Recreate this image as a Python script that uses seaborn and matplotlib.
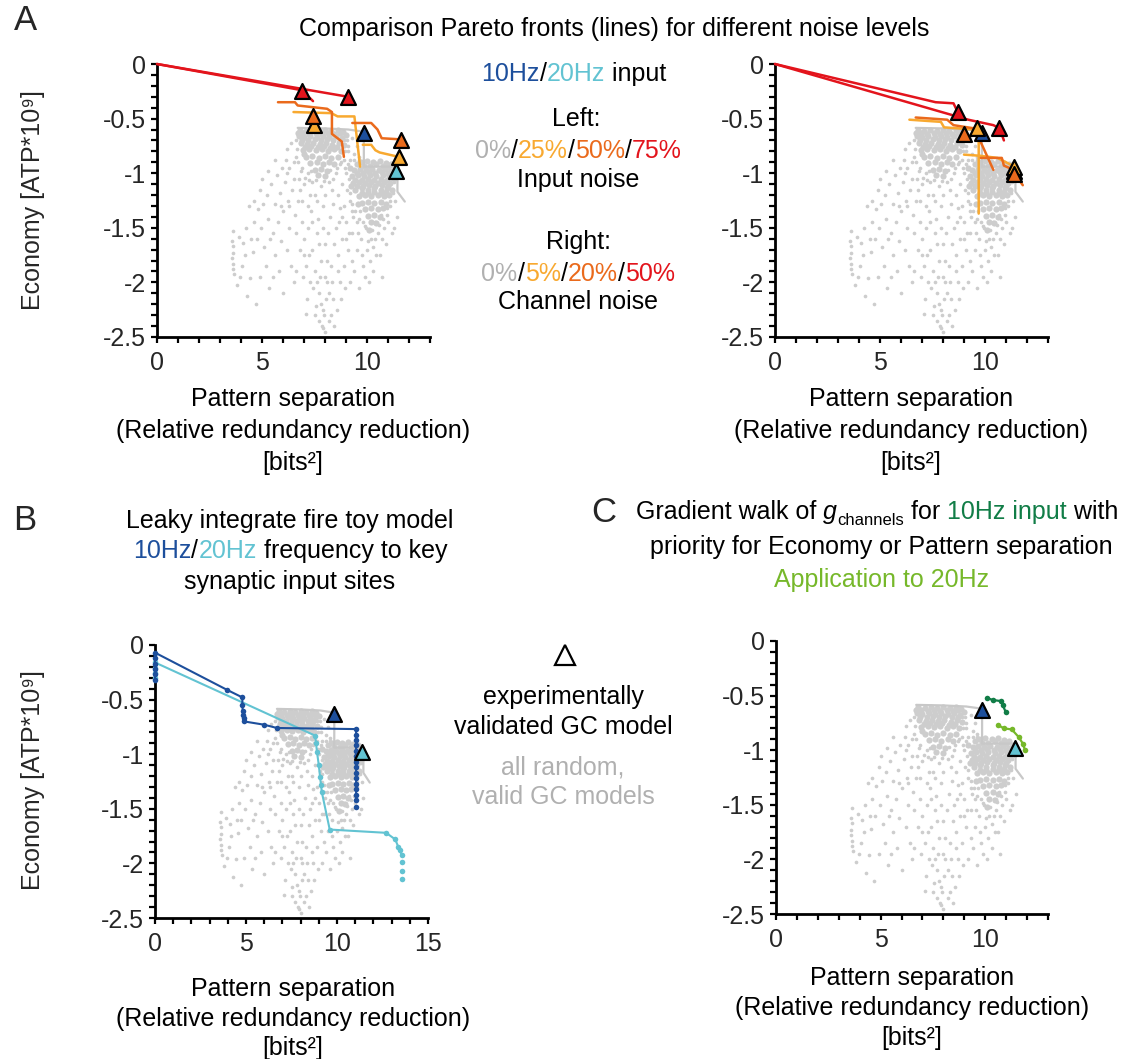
import matplotlib
matplotlib.use("Agg")
import matplotlib.pyplot as plt
import seaborn as sns
import pandas as pd
from matplotlib.ticker import MultipleLocator, FuncFormatter
from matplotlib.lines import Line2D

# ---------------- data ----------------
# random valid GC models (gray cloud): dense cores
dense_pts = [
    (6.8,-0.60),(7.1,-0.61),(7.4,-0.60),(7.7,-0.61),(8.0,-0.60),(8.3,-0.61),(8.6,-0.60),(8.85,-0.62),
    (6.95,-0.63),(7.25,-0.64),(7.55,-0.63),(7.85,-0.64),(8.15,-0.63),(8.45,-0.64),(8.72,-0.63),
    (6.75,-0.66),(7.0,-0.67),(7.3,-0.66),(7.6,-0.67),(7.9,-0.66),(8.2,-0.67),(8.5,-0.66),(8.8,-0.68),
    (6.9,-0.70),(7.2,-0.70),(7.5,-0.69),(7.8,-0.70),(8.1,-0.69),(8.4,-0.70),(8.7,-0.70),
    (6.85,-0.72),(7.15,-0.73),(7.45,-0.72),(7.75,-0.73),(8.05,-0.72),(8.35,-0.74),(8.65,-0.72),
    (7.05,-0.76),(7.35,-0.75),(7.65,-0.76),(7.95,-0.75),(8.25,-0.77),(8.55,-0.76),
    (6.95,-0.79),(7.25,-0.78),(7.55,-0.79),(7.85,-0.78),(8.15,-0.80),(8.45,-0.78),(8.75,-0.80),
    (7.1,-0.85),(7.4,-0.84),(7.7,-0.86),(8.0,-0.84),(8.3,-0.86),(8.6,-0.85),
    (7.3,-0.91),(7.6,-0.90),(7.9,-0.92),(8.2,-0.90),(7.5,-0.97),(7.8,-0.96),(8.1,-0.98),
    (6.7,-0.63),(9.0,-0.65),(8.9,-0.74),(7.0,-0.82),(8.45,-0.92),(7.65,-1.02),(8.0,-1.03),
    (9.7,-0.90),(10.0,-0.89),(10.3,-0.90),(10.6,-0.89),(10.9,-0.91),(11.15,-0.92),
    (9.85,-0.93),(10.15,-0.93),(10.45,-0.92),(10.75,-0.93),(11.0,-0.94),
    (9.4,-0.97),(9.65,-0.96),(9.95,-0.97),(10.25,-0.96),(10.55,-0.97),(10.85,-0.96),(11.15,-0.98),
    (9.5,-1.00),(9.8,-1.00),(10.1,-0.99),(10.4,-1.00),(10.7,-0.99),(11.0,-1.00),
    (9.3,-1.03),(9.55,-1.02),(9.85,-1.03),(10.15,-1.02),(10.45,-1.03),(10.75,-1.02),(11.05,-1.03),(11.25,-1.04),
    (9.45,-1.06),(9.75,-1.06),(10.05,-1.05),(10.35,-1.06),(10.65,-1.05),(10.95,-1.06),
    (9.35,-1.09),(9.6,-1.08),(9.9,-1.09),(10.2,-1.08),(10.5,-1.09),(10.8,-1.08),(11.1,-1.09),
    (9.5,-1.12),(9.8,-1.12),(10.1,-1.11),(10.4,-1.12),(10.7,-1.11),(11.0,-1.12),
    (9.45,-1.15),(9.75,-1.14),(10.05,-1.15),(10.35,-1.14),(10.65,-1.15),(10.95,-1.14),(11.2,-1.15),
    (9.75,-1.18),(10.05,-1.18),(10.35,-1.17),(10.65,-1.18),(10.9,-1.17),
    (9.6,-1.21),(9.9,-1.20),(10.2,-1.21),(10.5,-1.20),(10.8,-1.21),(11.05,-1.20),
    (9.75,-1.27),(10.05,-1.26),(10.35,-1.27),(10.65,-1.26),(10.9,-1.28),
    (9.9,-1.33),(10.2,-1.32),(10.5,-1.33),(10.75,-1.32),(10.05,-1.39),(10.35,-1.38),(10.6,-1.40),
    (10.2,-1.45),(10.45,-1.46),(9.2,-0.95),(9.25,-1.12),(11.3,-0.97),(9.5,-0.92),(10.1,-1.52),(9.55,-1.28),
]
# random valid GC models (gray cloud): sparse points
sparse_pts = [
    (6.6,-0.85),(6.9,-0.95),(7.2,-1.0),(7.0,-1.1),(7.4,-1.08),(7.8,-1.12),(8.2,-1.08),(8.5,-1.0),
    (8.7,-0.92),(8.9,-0.88),(9.1,-0.8),(9.0,-1.0),(8.8,-1.1),(8.6,-1.2),(9.2,-1.25),(8.4,-1.28),
    (8.0,-1.2),(7.6,-1.25),(7.3,-1.2),(6.8,-1.15),(6.5,-1.05),(6.3,-0.95),(6.2,-0.78),(6.4,-0.72),
    (8.35,-1.15),(9.05,-1.15),(7.9,-1.3),(8.7,-1.32),(9.3,-1.35),
    (3.62,-1.53),(3.58,-1.62),(3.62,-1.67),(3.60,-1.73),(3.57,-1.78),(3.63,-1.83),(3.61,-1.88),
    (3.66,-1.92),(3.80,-2.02),(3.90,-1.58),(4.1,-1.64),(4.25,-1.5),(4.05,-1.85),(4.45,-1.96),
    (4.3,-2.12),(4.55,-1.72),(4.6,-1.45),(4.75,-1.6),(4.8,-1.33),(4.95,-1.5),(5.05,-1.28),
    (5.1,-1.68),(5.25,-1.2),(5.3,-1.42),(5.45,-1.1),(5.5,-1.55),(5.6,-1.28),(5.7,-1.02),
    (5.75,-1.45),(5.85,-1.18),(5.95,-0.95),(6.0,-1.35),(6.1,-1.08),(6.15,-0.88),(6.25,-1.25),
    (6.3,-1.5),(6.45,-1.15),(6.5,-0.9),(6.55,-1.38),(6.7,-1.25),(6.75,-1.05),(5.2,-1.85),
    (4.9,-1.95),(5.6,-1.75),(5.9,-1.62),(6.2,-1.7),(6.6,-1.55),(6.9,-1.45),(5.35,-2.05),
    (4.7,-2.2),(5.8,-1.9),(6.4,-1.85),(4.2,-1.75),(3.95,-1.95),
    (4.4,-1.3),(4.9,-1.15),(5.3,-0.98),(5.6,-0.88),(4.6,-1.25),(5.0,-1.05),(5.5,-1.95),(6.0,-2.1),
    (6.5,-2.0),(6.8,-1.7),(6.6,-1.9),(6.3,-1.3),(5.9,-1.3),(5.4,-1.6),(4.5,-1.6),(6.9,-1.25),
    (7.2,-1.3),(7.5,-1.2),(8.9,-1.3),(8.8,-1.4),(9.0,-1.6),(9.5,-1.45),(10.7,-1.6),(11.4,-1.05),
    (7.0,-1.6),(7.2,-1.5),(7.4,-1.7),(7.1,-1.85),(7.3,-2.0),(7.5,-1.9),(7.6,-1.55),(7.7,-2.1),
    (7.8,-1.8),(7.9,-2.25),(8.0,-1.65),(8.1,-2.0),(8.2,-2.35),(7.85,-2.4),(8.0,-2.45),(7.95,-2.3),
    (8.3,-1.85),(8.4,-2.15),(8.5,-1.5),(8.6,-1.75),(8.7,-2.0),(8.8,-1.6),(8.9,-1.85),(9.0,-1.45),
    (9.1,-1.7),(7.55,-2.22),(7.65,-1.42),(7.35,-1.35),(8.25,-1.4),(8.15,-1.55),(7.75,-1.95),
    (8.05,-2.15),(7.45,-2.05),(8.35,-2.0),(7.25,-1.75),(6.95,-1.95),(7.15,-2.15),(8.55,-2.25),
    (8.45,-1.65),(7.7,-1.65),(7.9,-1.5),(8.1,-1.8),(8.0,-1.95),(7.6,-2.0),(7.8,-2.2),(8.2,-2.1),
    (7.4,-1.45),(8.65,-1.45),(7.1,-2.29),(7.0,-1.75),(6.2,-1.0),
    (9.3,-1.55),(9.5,-1.7),(9.4,-1.9),(9.7,-1.6),(9.8,-1.85),(9.6,-2.05),(10.0,-1.7),(10.2,-1.6),
    (10.3,-1.9),(10.5,-1.55),(10.6,-1.75),(10.8,-1.5),(10.9,-1.65),(11.0,-1.45),(10.4,-1.45),
    (9.9,-1.48),(9.2,-2.0),(10.1,-2.0),(10.7,-1.95),(11.1,-1.3),(11.2,-1.55),(9.35,-1.4),
    (9.65,-1.35),(10.65,-1.38),(10.95,-1.38),
    (8.9,-0.7),(9.1,-0.75),(9.3,-0.68),(9.2,-0.88),(9.4,-0.82),(9.5,-0.75),(9.6,-0.85),(8.95,-0.95),
    (11.35,-1.25),(11.45,-1.4),(11.3,-1.5),
    (6.6,-0.7),(6.65,-0.78),(6.7,-0.9),(6.85,-0.98),(7.05,-1.04),(7.35,-0.98),(7.25,-1.06),
    (7.55,-1.06),(7.95,-1.07),(8.25,-0.97),(8.55,-0.95),(8.75,-0.9),(8.95,-0.8),(9.05,-0.7),(8.4,-1.05),
    (9.1,-0.92),(9.15,-1.05),(9.2,-1.18),(9.3,-1.28),(9.45,-1.35),(9.6,-1.42),(9.8,-1.45),
    (9.95,-1.5),(10.25,-1.52),(10.55,-1.47),(10.75,-1.42),(10.95,-1.32),(11.1,-1.25),(11.25,-1.18),
    (11.3,-1.08),(9.4,-0.88),(9.6,-0.88),(10.4,-1.6),(10.3,-1.68),(10.05,-1.62),
    (8.6,-1.9),(9.3,-1.8),(9.55,-1.55),(9.15,-1.55),(9.75,-1.75),(10.15,-1.8),(10.45,-1.75),
    (9.9,-1.95),(8.95,-2.05),(8.75,-2.15),(8.3,-2.3),(8.45,-2.4),(7.7,-2.35),(7.5,-2.3),(7.9,-2.42),
]
dense_x = [p[0] for p in dense_pts]
dense_y = [p[1] for p in dense_pts]
sparse_x = [p[0] for p in sparse_pts]
sparse_y = [p[1] for p in sparse_pts]

# 0% noise Pareto fronts (gray lines)
front10_x = [6.7, 8.0, 9.1, 9.85]
front10_y = [-0.585, -0.59, -0.60, -0.62]
front20_x = [9.85, 9.85, 11.45, 11.45, 11.8]
front20_y = [-0.64, -0.94, -0.94, -1.17, -1.26]

# experimentally validated GC model
exp10_x, exp10_y = [9.85], [-0.63]
exp20_x, exp20_y = [11.4], [-0.98]

# Panel A left: input noise fronts
aL_red1_x = [0, 6.9, 7.43];              aL_red1_y = [0, -0.24, -0.34]
aL_red2_x = [0, 9.1];                    aL_red2_y = [0, -0.30]
aL_or1_x = [5.76, 6.57, 6.7, 8.1, 8.33, 8.33, 8.8, 8.9]
aL_or1_y = [-0.35, -0.35, -0.38, -0.41, -0.44, -0.64, -0.71, -0.85]
aL_or2_x = [9.3, 10.2, 10.5, 10.7, 11.6];  aL_or2_y = [-0.54, -0.54, -0.60, -0.68, -0.69]
aL_ye1_x = [6.5, 8.3, 8.6, 9.4, 9.67];     aL_ye1_y = [-0.44, -0.45, -0.48, -0.48, -0.94]
aL_ye2_x = [9.8, 10.2, 10.4, 10.6, 11.5];  aL_ye2_y = [-0.74, -0.74, -0.79, -0.81, -0.85]
aL_tri_red_x = [6.9, 9.1];   aL_tri_red_y = [-0.25, -0.30]
aL_tri_or_x = [7.44, 11.6];  aL_tri_or_y = [-0.48, -0.70]
aL_tri_ye_x = [7.48, 11.5];  aL_tri_ye_y = [-0.56, -0.85]

# Panel A right: channel noise fronts
aR_red1_x = [0, 7.65, 8.5, 8.7];           aR_red1_y = [0, -0.35, -0.36, -0.44]
aR_red2_x = [0, 9.2, 10.4, 10.7, 10.9];    aR_red2_y = [0, -0.51, -0.56, -0.59, -0.70]
aR_or1_x = [6.7, 8.2, 8.5, 9.5, 10.4];     aR_or1_y = [-0.49, -0.51, -0.56, -0.59, -0.97]
aR_or2_x = [9.8, 10.8, 10.9, 11.25, 11.8]; aR_or2_y = [-0.86, -0.86, -0.93, -0.96, -1.11]
aR_ye1_x = [6.4, 7.9, 8.05, 9.5, 9.7, 9.7]; aR_ye1_y = [-0.51, -0.53, -0.58, -0.60, -0.62, -1.37]
aR_ye2_x = [9.0, 9.75, 10.6, 11.2, 11.6];  aR_ye2_y = [-0.83, -0.84, -0.86, -0.92, -0.97]
aR_tri_red_x = [8.7, 10.65]; aR_tri_red_y = [-0.44, -0.59]
aR_tri_or_x = [9.0, 11.4];   aR_tri_or_y = [-0.64, -1.01]
aR_tri_ye_x = [9.6, 11.4];   aR_tri_ye_y = [-0.59, -0.94]

# Panel B: leaky integrate-and-fire toy model
b10_x = [0, 0, 0, 0, 0, 0, 3.95, 4.8, 4.8, 4.82, 4.85, 4.87, 4.9, 6.0, 6.7,
         11.05, 11.05, 11.05, 11.05, 11.05, 11.05, 11.05, 11.05, 11.05, 11.05, 11.05, 11.05, 11.05, 11.05]
b10_y = [-0.32, -0.27, -0.22, -0.17, -0.12, -0.07, -0.41, -0.48, -0.55, -0.60, -0.64, -0.67, -0.70, -0.73, -0.76,
         -0.77, -0.82, -0.87, -0.92, -0.97, -1.02, -1.07, -1.12, -1.17, -1.22, -1.27, -1.32, -1.37, -1.42]
b10_dot_x = [11.05]; b10_dot_y = [-1.48]
b20_x = [0, 0, 0, 0, 8.8, 8.85, 8.9, 9.0, 9.07, 9.12, 9.17, 9.6, 12.7, 13.2, 13.37, 13.45, 13.55]
b20_y = [-0.30, -0.26, -0.21, -0.16, -0.83, -0.90, -0.98, -1.10, -1.21, -1.28, -1.35, -1.69, -1.72, -1.78, -1.85, -1.88, -1.92]
b20_dot_x = [13.55, 13.55, 13.55]; b20_dot_y = [-1.99, -2.07, -2.14]

# Panel C: gradient walks
c10_x = [10.07, 10.35, 10.74, 10.84, 10.98]; c10_y = [-0.52, -0.54, -0.55, -0.59, -0.65]
c20_x = [10.6, 10.9, 11.27, 11.6, 11.8, 11.9]; c20_y = [-0.77, -0.80, -0.81, -0.88, -0.94, -1.0]

# ---------------- style ----------------
BLUE = "#1d4f9c"; CYAN = "#62c3d2"
RED = "#e3141c"; ORANGE = "#ea6a1c"; YELLOW = "#f8a930"
GRAY = "#cdcdcd"; GRAYTXT = "#b0b0b0"; GRAYLINE = "#c8c8c8"
DGREEN = "#117d47"; LGREEN = "#76b82a"
FS = 18

sns.set_theme(style="ticks")
plt.rcParams["font.family"] = ["Liberation Sans", "DejaVu Sans"]
plt.rcParams["axes.unicode_minus"] = False

W, H = 1131, 1059
fig = plt.figure(figsize=(W / 100, H / 100), dpi=100)
fig.patch.set_facecolor("white")


def px_axes(l, t, r, b):
    return fig.add_axes([l / W, 1 - b / H, (r - l) / W, (b - t) / H])


def style_ax(ax, xmax):
    ax.set_xlim(0, xmax)
    ax.set_ylim(-2.5, 0)
    ax.xaxis.set_major_locator(MultipleLocator(5))
    ax.xaxis.set_minor_locator(MultipleLocator(1))
    ax.yaxis.set_major_locator(MultipleLocator(0.5))
    ax.yaxis.set_minor_locator(MultipleLocator(0.1))
    fmt = FuncFormatter(lambda v, p: "0" if abs(v) < 1e-9 else f"{v:g}")
    ax.xaxis.set_major_formatter(fmt)
    ax.yaxis.set_major_formatter(fmt)
    for s in ["top", "right"]:
        ax.spines[s].set_visible(False)
    for s in ["left", "bottom"]:
        ax.spines[s].set_linewidth(2)
        ax.spines[s].set_color("black")
    ax.tick_params(which="both", direction="out", length=4, width=1.6, color="black")
    ax.tick_params(axis="x", labelsize=FS, pad=6)
    ax.tick_params(axis="y", labelsize=FS, pad=4)
    ax.set_xlabel("")
    ax.set_ylabel("")
    ax.grid(False)
    ax.set_facecolor("white")


def base(ax):
    sns.scatterplot(x=sparse_x, y=sparse_y, s=7, color=GRAY, linewidth=0, ax=ax, zorder=1)
    sns.scatterplot(x=dense_x, y=dense_y, s=20, color=GRAY, linewidth=0, ax=ax, zorder=1)
    sns.lineplot(x=front10_x, y=front10_y, sort=False, estimator=None, color=GRAYLINE, lw=1.6, ax=ax, zorder=2)
    sns.lineplot(x=front20_x, y=front20_y, sort=False, estimator=None, color=GRAYLINE, lw=1.6, ax=ax, zorder=2)


def line(ax, x, y, c, lw=1.8, **kw):
    sns.lineplot(x=x, y=y, sort=False, estimator=None, color=c, lw=lw, ax=ax, zorder=3, **kw)


def tri(ax, x, y, c, z=6):
    sns.scatterplot(x=x, y=y, marker="^", s=115, color=c, edgecolor="black", linewidth=1.6, ax=ax, zorder=z)


def unclip(ax):
    for a in ax.lines + ax.collections:
        a.set_clip_on(False)


# ---------------- panel A left ----------------
axA1 = px_axes(157, 64, 430, 337)
base(axA1)
line(axA1, aL_ye1_x, aL_ye1_y, YELLOW)
line(axA1, aL_ye2_x, aL_ye2_y, YELLOW)
line(axA1, aL_or1_x, aL_or1_y, ORANGE)
line(axA1, aL_or2_x, aL_or2_y, ORANGE)
line(axA1, aL_red1_x, aL_red1_y, RED)
line(axA1, aL_red2_x, aL_red2_y, RED)
tri(axA1, exp20_x, exp20_y, CYAN)
tri(axA1, exp10_x, exp10_y, BLUE)
tri(axA1, aL_tri_ye_x, aL_tri_ye_y, YELLOW)
tri(axA1, aL_tri_or_x, aL_tri_or_y, ORANGE, 7)
tri(axA1, aL_tri_red_x, aL_tri_red_y, RED)
style_ax(axA1, 13)
unclip(axA1)

# ---------------- panel A right ----------------
axA2 = px_axes(775, 64, 1048, 337)
base(axA2)
line(axA2, aR_ye1_x, aR_ye1_y, YELLOW)
line(axA2, aR_ye2_x, aR_ye2_y, YELLOW)
line(axA2, aR_or1_x, aR_or1_y, ORANGE)
line(axA2, aR_or2_x, aR_or2_y, ORANGE)
line(axA2, aR_red1_x, aR_red1_y, RED)
line(axA2, aR_red2_x, aR_red2_y, RED)
tri(axA2, exp20_x, exp20_y, CYAN)
tri(axA2, exp10_x, exp10_y, BLUE)
tri(axA2, aR_tri_ye_x, aR_tri_ye_y, YELLOW, 7)
tri(axA2, aR_tri_or_x, aR_tri_or_y, ORANGE, 8)
tri(axA2, aR_tri_red_x, aR_tri_red_y, RED)
style_ax(axA2, 13)
unclip(axA2)

# ---------------- panel B ----------------
axB = px_axes(155, 645, 428, 918)
base(axB)
line(axB, b20_x, b20_y, CYAN, lw=1.5, marker="o", markersize=4, markeredgewidth=0)
sns.scatterplot(x=b20_dot_x, y=b20_dot_y, s=16, color=CYAN, linewidth=0, ax=axB, zorder=3)
line(axB, b10_x, b10_y, BLUE, lw=1.5, marker="o", markersize=4, markeredgewidth=0)
sns.scatterplot(x=b10_dot_x, y=b10_dot_y, s=16, color=BLUE, linewidth=0, ax=axB, zorder=3)
tri(axB, exp10_x, exp10_y, BLUE)
tri(axB, exp20_x, exp20_y, CYAN)
style_ax(axB, 15)
unclip(axB)

# ---------------- panel C ----------------
axC = px_axes(776, 641, 1048, 914)
base(axC)
tri(axC, exp10_x, exp10_y, BLUE)
tri(axC, exp20_x, exp20_y, CYAN)
line(axC, c10_x, c10_y, DGREEN, lw=1.6, marker="o", markersize=4, markeredgewidth=0)
line(axC, c20_x, c20_y, LGREEN, lw=1.6, marker="o", markersize=4, markeredgewidth=0)
style_ax(axC, 13)
unclip(axC)

# ---------------- text ----------------
renderer = fig.canvas.get_renderer()


def _w(s, size, style):
    t1 = fig.text(0, 0, "I" + s + "I", fontsize=size, style=style)
    t2 = fig.text(0, 0, "II", fontsize=size, style=style)
    w = t1.get_window_extent(renderer).width - t2.get_window_extent(renderer).width
    t1.remove(); t2.remove()
    return w


def rich(cx, cy, parts, size=FS):
    """parts: (text, color[, size, style, dy_px])"""
    specs = []
    for p in parts:
        s, c = p[0], p[1]
        sz = p[2] if len(p) > 2 else size
        st = p[3] if len(p) > 3 else "normal"
        dy = p[4] if len(p) > 4 else 0
        specs.append((s, c, sz, st, dy, _w(s, sz, st)))
    total = sum(sp[5] for sp in specs)
    x = cx - total / 2
    base_y = cy + 0.36 * size * 100 / 72
    for s, c, sz, st, dy, w in specs:
        fig.text(x / W, 1 - (base_y + dy) / H, s, color=c, fontsize=sz, style=st,
                 ha="left", va="baseline")
        x += w


def ctext(cx, cy, s, color="black", size=FS, **kw):
    rich(cx, cy, [(s, color)], size=size)


# panel letters
fig.text(25 / W, 1 - 20 / H, "A", fontsize=25, ha="center", va="center")
fig.text(25 / W, 1 - 520 / H, "B", fontsize=25, ha="center", va="center")
fig.text(604 / W, 1 - 512 / H, "C", fontsize=25, ha="center", va="center")

ctext(614, 27, "Comparison Pareto fronts (lines) for different noise levels")

# legend block (top middle)
rich(574, 72, [("10Hz", BLUE), ("/", "black"), ("20Hz", CYAN), (" input", "black")])
ctext(576, 117, "Left:")
rich(578, 149, [("0%", GRAYTXT), ("/", "black"), ("25%", YELLOW), ("/", "black"),
                ("50%", ORANGE), ("/", "black"), ("75%", RED)])
ctext(578, 178, "Input noise")
ctext(578, 240, "Right:")
rich(578, 272, [("0%", GRAYTXT), ("/", "black"), ("5%", YELLOW), ("/", "black"),
                ("20%", ORANGE), ("/", "black"), ("50%", RED)])
ctext(578, 300, "Channel noise")

# x labels
for cx, ys in [(293, (397, 429, 461)), (911, (397, 429, 461)),
               (293, (987, 1017, 1046)), (912, (976, 1006, 1036))]:
    ctext(cx, ys[0], "Pattern separation")
    ctext(cx, ys[1], "(Relative redundancy reduction)")
    ctext(cx, ys[2], "[bits²]")

# y labels
fig.text(33 / W, 1 - 200 / H, "Economy [ATP*10⁹]", rotation=90, fontsize=FS, ha="center", va="center")
fig.text(33 / W, 1 - 780 / H, "Economy [ATP*10⁹]", rotation=90, fontsize=FS, ha="center", va="center")

# panel B title
ctext(290, 519, "Leaky integrate fire toy model")
rich(290, 549, [("10Hz", BLUE), ("/", "black"), ("20Hz", CYAN), (" frequency to key", "black")])
ctext(290, 580, "synaptic input sites")

# panel C title
rich(877, 510, [("Gradient walk of ", "black"), ("g", "black", FS, "italic"),
                ("channels", "black", 12, "normal", 6), (" for ", "black"),
                ("10Hz input", DGREEN), (" with", "black")])
ctext(881, 545, "priority for Economy or Pattern separation")
ctext(882, 578, "Application to 20Hz", color=LGREEN)

# middle bottom legend
fig.add_artist(Line2D([565 / W], [1 - 655 / H], marker="^", markersize=14, markerfacecolor="none",
                      markeredgecolor="black", markeredgewidth=1.6, linestyle="none",
                      transform=fig.transFigure))
ctext(563, 695, "experimentally")
ctext(563, 725, "validated GC model")
ctext(563, 765, "all random,", color=GRAYTXT)
ctext(563, 795, "valid GC models", color=GRAYTXT)

fig.savefig("out.png", dpi=100, facecolor="white")
